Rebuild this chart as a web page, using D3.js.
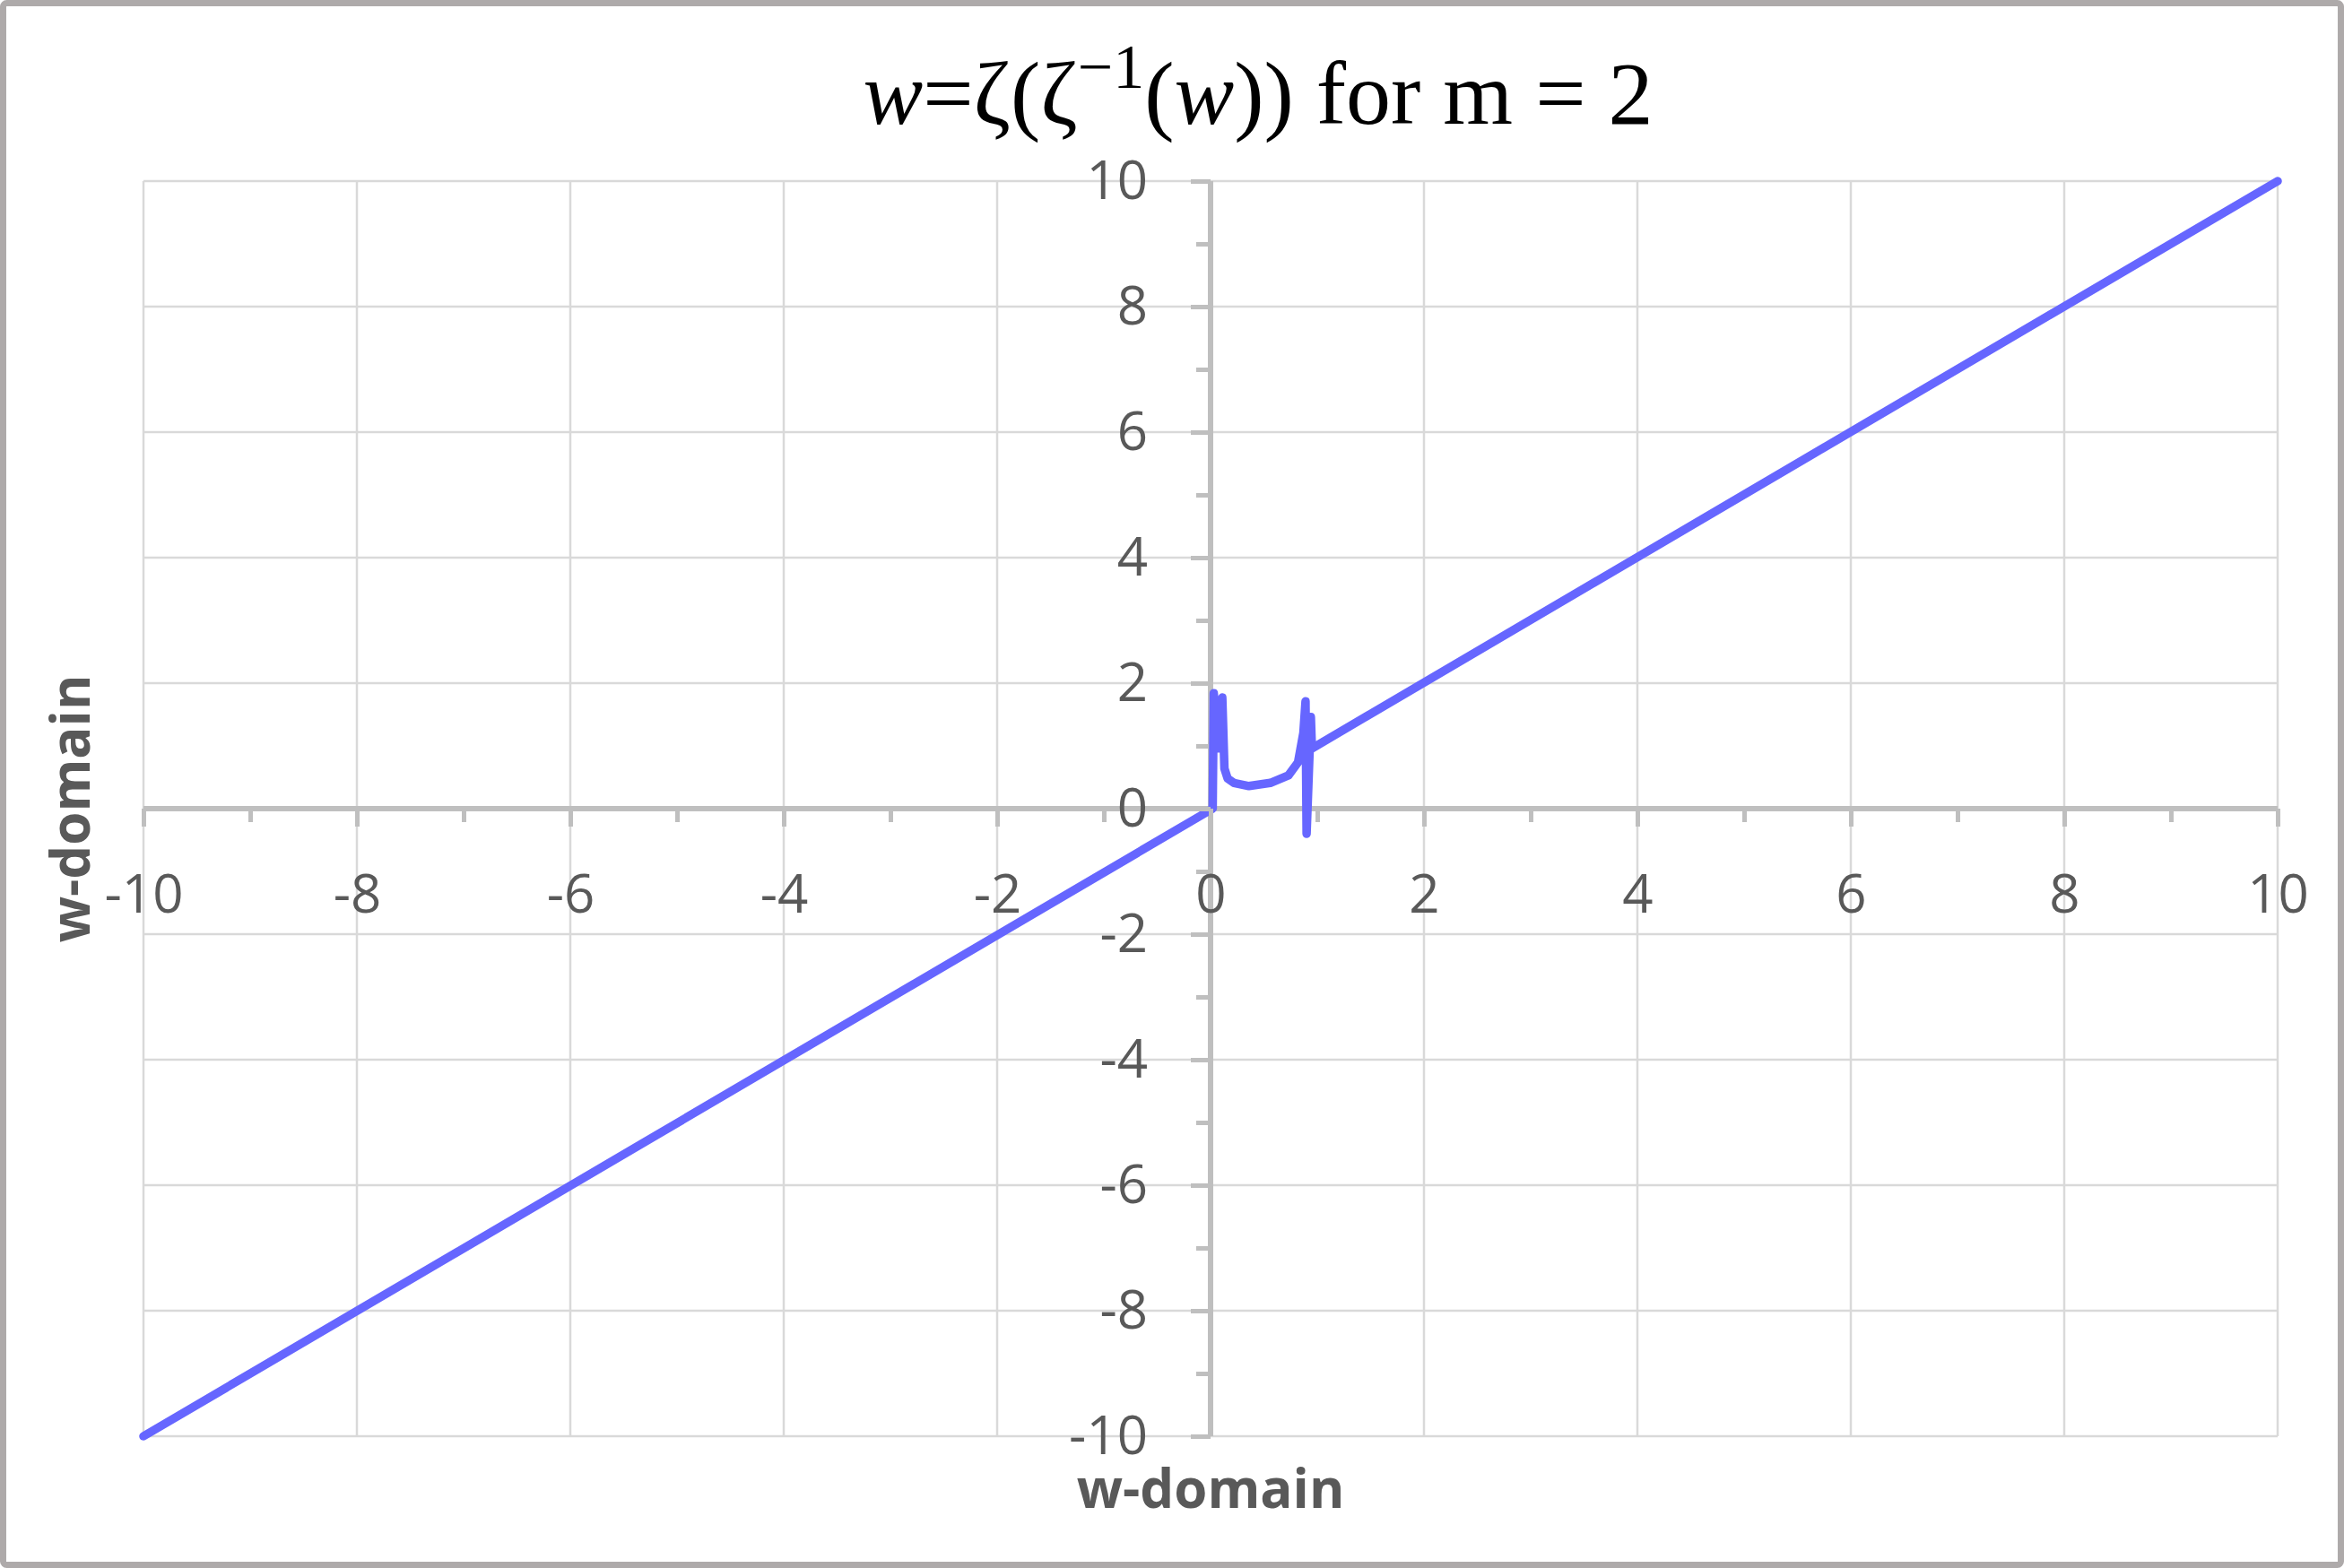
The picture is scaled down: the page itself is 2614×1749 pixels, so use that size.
<!DOCTYPE html>
<html lang="en">
<head>
    <meta charset="utf-8" />
    <title>w = zeta(zeta^-1(w)) for m = 2</title>
    <script src="https://d3js.org/d3.v7.min.js"></script>
    <style>
        body {
            margin: 0;
            padding: 0;
            background: white;
        }
        svg {
            display: block;
        }
        .tick-label {
            font-family: "Open Sans", sans-serif;
            font-size: 60px;
            fill: #595959;
        }
        .axis-title {
            font-family: "Open Sans", sans-serif;
            font-weight: bold;
            font-size: 60px;
            fill: #595959;
        }
    </style>
</head>
<body>
<svg id="chart"></svg>
<script>
    var w = 2614;
    var h = 1749;

    // Data: input w (x) and returned w (y)
    var wIn  = [-10, 0.02, 0.03, 0.07, 0.11, 0.13, 0.16, 0.22, 0.36, 0.56, 0.73, 0.82, 0.87, 0.89, 0.90, 0.94, 0.95, 10];
    var wOut = [-10, 0.00, 1.84, 0.96, 1.77, 0.64, 0.48, 0.41, 0.36, 0.41, 0.53, 0.74, 1.21, 1.71, -0.40, 1.46, 0.96, 10];

    // Tick values
    var majorTicks = [-10, -8, -6, -4, -2, 0, 2, 4, 6, 8, 10];
    var minorTicks = [-9, -7, -5, -3, -1, 1, 3, 5, 7, 9];

    var margin = {left: 160, right: 74, top: 202, bottom: 147};

    var svg = d3.select("#chart")
                .attr("width", w)
                .attr("height", h);

    // Outer chart border
    svg.append("rect")
        .attr("x", 3.5)
        .attr("y", 3.5)
        .attr("width", w - 7)
        .attr("height", h - 7)
        .attr("rx", 4)
        .attr("fill", "white")
        .attr("stroke", "#aeaaaa")
        .attr("stroke-width", 7);

    var xScale = d3.scaleLinear()
                .domain([-10, 10])
                .range([margin.left, w - margin.right]);

    var yScale = d3.scaleLinear()
                .domain([-10, 10])
                .range([h - margin.bottom, margin.top]);

    // Gridlines
    svg.append("g")
        .selectAll("line.vgrid")
        .data(majorTicks)
        .enter().append("line")
        .attr("x1", function(d) { return xScale(d); })
        .attr("x2", function(d) { return xScale(d); })
        .attr("y1", yScale(-10))
        .attr("y2", yScale(10))
        .attr("stroke", "#d9d9d9")
        .attr("stroke-width", 2.5);

    svg.append("g")
        .selectAll("line.hgrid")
        .data(majorTicks)
        .enter().append("line")
        .attr("y1", function(d) { return yScale(d); })
        .attr("y2", function(d) { return yScale(d); })
        .attr("x1", xScale(-10))
        .attr("x2", xScale(10))
        .attr("stroke", "#d9d9d9")
        .attr("stroke-width", 2.5);

    // Axes crossing at zero
    var x0 = xScale(0);
    var y0 = yScale(0);

    function styleAxis(g) {
        g.select(".domain").remove();
        g.selectAll(".tick line")
            .attr("stroke", "#bfbfbf")
            .attr("stroke-width", 5);
        g.selectAll(".tick text")
            .attr("class", "tick-label")
            .attr("font-family", null)
            .attr("font-size", null)
            .attr("fill", null);
    }

    // minor ticks
    svg.append("g")
        .attr("transform", "translate(0," + y0 + ")")
        .call(d3.axisBottom(xScale).tickValues(minorTicks).tickSize(15).tickFormat(""))
        .call(styleAxis);

    svg.append("g")
        .attr("transform", "translate(" + x0 + ",0)")
        .call(d3.axisLeft(yScale).tickValues(minorTicks).tickSize(16).tickFormat(""))
        .call(styleAxis);

    // major ticks and labels
    var xAxisG = svg.append("g")
        .attr("transform", "translate(0," + y0 + ")")
        .call(d3.axisBottom(xScale).tickValues(majorTicks).tickSize(20).tickPadding(53)
              .tickFormat(function(d) { return d; }))
        .call(styleAxis);

    var yAxisG = svg.append("g")
        .attr("transform", "translate(" + x0 + ",0)")
        .call(d3.axisLeft(yScale).tickValues(majorTicks).tickSize(22).tickPadding(48)
              .tickFormat(function(d) { return d; }))
        .call(styleAxis);

    // axis lines
    svg.append("line")
        .attr("x1", xScale(-10)).attr("x2", xScale(10))
        .attr("y1", y0).attr("y2", y0)
        .attr("stroke", "#bfbfbf")
        .attr("stroke-width", 6);

    svg.append("line")
        .attr("x1", x0).attr("x2", x0)
        .attr("y1", yScale(-10)).attr("y2", yScale(10))
        .attr("stroke", "#bfbfbf")
        .attr("stroke-width", 6);

    // Series line
    var points = wIn.map(function(d, i) { return [d, wOut[i]]; });

    var line = d3.line()
        .x(function(d) { return xScale(d[0]); })
        .y(function(d) { return yScale(d[1]); });

    svg.append("path")
        .datum(points)
        .attr("d", line)
        .attr("fill", "none")
        .attr("stroke", "#6666ff")
        .attr("stroke-width", 9.5)
        .attr("stroke-linejoin", "round")
        .attr("stroke-linecap", "round");

    // keep tick labels above the lines
    xAxisG.raise();
    yAxisG.raise();

    // Axis titles
    svg.append("text")
        .attr("class", "axis-title")
        .attr("x", x0)
        .attr("y", 1682)
        .attr("text-anchor", "middle")
        .text("w-domain");

    svg.append("text")
        .attr("class", "axis-title")
        .attr("transform", "translate(100," + y0 + ") rotate(-90)")
        .attr("text-anchor", "middle")
        .text("w-domain");

    // Chart title
    var title = svg.append("text")
        .attr("x", 1403)
        .attr("y", 138)
        .attr("text-anchor", "middle")
        .attr("font-family", "'Liberation Serif', serif")
        .attr("font-size", 100)
        .attr("fill", "black");

    title.append("tspan").attr("font-style", "italic").text("w");
    title.append("tspan").text("=ζ(ζ");
    title.append("tspan").attr("font-size", 70).attr("dy", -40).text("−1");
    title.append("tspan").attr("dy", 40).text("(");
    title.append("tspan").attr("font-style", "italic").text("w");
    title.append("tspan").text(")) for m = 2");
</script>
</body>
</html>
